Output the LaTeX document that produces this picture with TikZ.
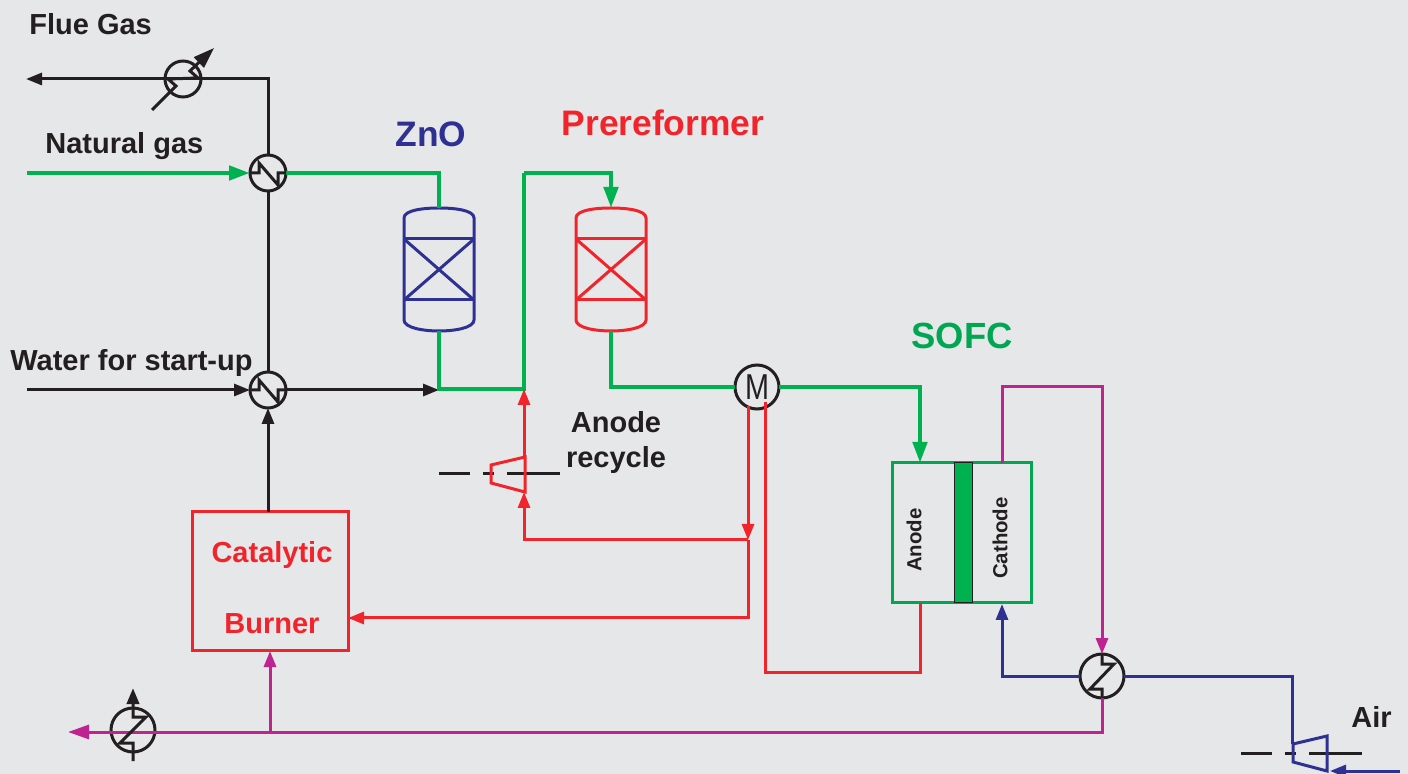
\documentclass[tikz,border=0pt]{standalone}
\usepackage{fontspec}
\setmainfont{Liberation Sans}
\usetikzlibrary{arrows.meta}
\definecolor{bgcol}{HTML}{E6E7E8}
\definecolor{inkcol}{HTML}{231F20}
\definecolor{gascol}{HTML}{00B14F}
\definecolor{fccol}{HTML}{00A651}
\definecolor{hotcol}{HTML}{F1242B}
\definecolor{aircol}{HTML}{2E3192}
\definecolor{exhcol}{HTML}{BE2390}
\tikzset{
  inkline/.style={draw=inkcol,line width=1.5pt},
  gasline/.style={draw=gascol,line width=2.3pt},
  hotline/.style={draw=hotcol,line width=1.5pt},
  airline/.style={draw=aircol,line width=1.5pt},
  exhline/.style={draw=exhcol,line width=1.5pt},
  bigtip/.style={-{Triangle[length=10.5pt,width=7pt]}},
  smalltip/.style={-{Triangle[length=8pt,width=6pt]}},
  hexs/.style={circle,inkline,minimum size=18pt,inner sep=0pt,outer sep=0pt},
  hexl/.style={circle,inkline,minimum size=22pt,inner sep=0pt,outer sep=0pt},
  lab/.style={text=inkcol,inner sep=0pt,font=\fontsize{14.5pt}{17pt}\selectfont\bfseries},
  biglab/.style={inner sep=0pt,font=\fontsize{17.7pt}{20pt}\selectfont\bfseries},
  celllab/.style={inner sep=0pt,rotate=90,text=inkcol,font=\fontsize{10.2pt}{12pt}\selectfont\bfseries},
  zigh/.pic={\draw[inkline] (-18,0) -- (-9,0) -- (-9,-10) -- (10,12) -- (10,0) -- (18,0);},
  zigv/.pic={\draw[inkline] (0,-22) -- (0,-12) -- (12,-12) -- (-12,13) -- (0,13) -- (0,22);},
  vessel/.pic={
    \draw (-35,-52) .. controls (-35,-60) and (-15,-62) .. (0,-62)
       .. controls (15,-62) and (35,-60) .. (35,-52) -- (35,50)
       .. controls (35,58) and (15,61) .. (0,61)
       .. controls (-15,61) and (-35,58) .. (-35,50) -- cycle;
    \draw (-35,-31) -- (35,-31);
    \draw (-35,30) -- (35,30);
    \draw (-35,-31) -- (35,30);
    \draw (-35,30) -- (35,-31);
    \coordinate (-top) at (0,-62);
    \coordinate (-bot) at (0,61);
  },
  compressor/.pic={
    \draw[inkline,dash pattern=on 15.5pt off 6.5pt on 5.5pt off 6.5pt on 26.5pt] (-85,0) -- (36,0);
    \draw (-33,-9) -- (1,-17) -- (1,18) -- (-33,9) -- cycle;
  }
}

\begin{document}
\begin{tikzpicture}[x=0.5pt,y=-0.5pt]
  \fill[bgcol] (0,0) rectangle (1408,774);
  \useasboundingbox (0,0) rectangle (1408,774);

  \node[hexs] (hxflue) at (183,79) {};
  \node[hexs] (hxgas) at (268,173) {};
  \node[hexs] (hxwater) at (268,390) {};
  \node[hexl] (hxair) at (1102,676) {};
  \node[hexl] (hxexit) at (133,730) {};
  \node[hexl,text=inkcol,font=\fontsize{18pt}{20pt}\selectfont] (motor) at (757,387) {\scalebox{0.8}[1]{M}};
  \node[draw=hotcol,line width=1.5pt,minimum width=78pt,minimum height=69pt,outer sep=0pt] (burner) at (270,581) {};
  \node[draw=fccol,line width=1.5pt,minimum width=69.5pt,minimum height=70pt,outer sep=0pt] (sofc) at (961.5,533) {};
  \node[draw=inkcol,fill=gascol,line width=0.5pt,minimum width=9pt,minimum height=70pt,outer sep=0pt] (membrane) at (963,533) {};
  \pic[draw=aircol,line width=1.5pt] (zno) at (439,270) {vessel};
  \pic[draw=hotcol,line width=1.5pt] (pre) at (611,270) {vessel};
  \pic[draw=hotcol,line width=1.5pt] at (524,474) {compressor};
  \pic[draw=aircol,line width=1.5pt] at (1326,753) {compressor};

  \coordinate (flueout) at (26,79);
  \coordinate (gasin) at (27,173);
  \coordinate (waterin) at (27,390);
  \coordinate (waterend) at (439,390);
  \coordinate (burnertop) at (268,512);
  \coordinate (mix) at (524,389);
  \coordinate (mixtop) at (524,173);
  \coordinate (anodein) at (920,463);
  \coordinate (anodeout) at (920,603);
  \coordinate (anodecorner) at (920,672);
  \coordinate (motorl) at (748,406);
  \coordinate (motorr) at (765,402);
  \coordinate (redjoin) at (748,540);
  \coordinate (recyclein) at (524,492);
  \coordinate (recycleout) at (524,457);
  \coordinate (burnerin) at (348,618);
  \coordinate (cathodeout) at (1002,463);
  \coordinate (cathodetop) at (1002,387);
  \coordinate (cathodein) at (1002,604);
  \coordinate (exitout) at (68,732);
  \coordinate (exitjoin) at (270,732);
  \coordinate (burnerair) at (270,651);
  \coordinate (comptop) at (1292,744);
  \coordinate (airin) at (1400,771);
  \coordinate (airend) at (1330,771);

  \draw[inkline,smalltip] (hxgas.north) |- (flueout);
  \draw[inkline] (hxgas.south) -- (hxwater.north);
  \draw[inkline,smalltip] (waterin) -- (hxwater.west);
  \draw[inkline,smalltip] (hxwater.east) -- (waterend);
  \draw[inkline,smalltip] (burnertop) -- (hxwater.south);

  \draw[gasline,bigtip] (gasin) -- (hxgas.west);
  \draw[gasline] (hxgas.east) -| (zno-top);
  \draw[gasline] (zno-bot) |- (mix) -- (mixtop);
  \draw[gasline,bigtip] (mixtop) -| (pre-top);
  \draw[gasline] (pre-bot) |- (motor.west);
  \draw[gasline,bigtip] (motor.east) -| (anodein);

  \draw[hotline,smalltip] (recycleout) -- (mix);
  \draw[hotline,smalltip] (redjoin) -| (recyclein);
  \draw[hotline,smalltip] (motorl) -- (redjoin);
  \draw[hotline,smalltip] (redjoin) |- (burnerin);
  \draw[hotline] (motorr) |- (anodecorner) -- (anodeout);

  \draw[exhline,smalltip] (cathodeout) -- (cathodetop) -| (hxair.north);
  \draw[exhline,bigtip] (hxair.south) |- (exitout);
  \draw[exhline,smalltip] (exitjoin) -- (burnerair);

  \draw[airline,smalltip] (hxair.west) -| (cathodein);
  \draw[airline] (hxair.east) -| (comptop);
  \draw[airline,smalltip] (airin) -- (airend);

  \draw[inkline,bigtip] (152,110) -- (176,86) -- (168,79) -- (198,78) -- (190,71) -- (214,48);
  \pic at (hxgas) {zigh};
  \pic at (hxwater) {zigh};
  \pic at (hxair) {zigv};
  \draw[inkline] (133,761) -- (133,743) -- (120,743) -- (146,717) -- (133,717) -- (133,704);
  \draw[inkline,line width=1.8pt,smalltip] (133,704) -- (133,688);

  \node[lab,anchor=west] (fluelab) at (29,24) {Flue Gas};
  \node[lab,anchor=west] (gaslab) at (45,146) {Natural gas};
  \node[lab,anchor=west] (waterlab) at (10,363) {Water for start-up};
  \node[lab,align=center] (recyclelab) at (616,443) {Anode\\[0.5pt]recycle};
  \node[lab,anchor=west] (airlab) at (1351,717) {Air};
  \node[biglab,text=aircol] (znolab) at (431,134) {ZnO};
  \node[biglab,text=hotcol] (prelab) at (663,123) {Prereformer};
  \node[biglab,text=fccol,font=\fontsize{18.2pt}{20pt}\selectfont\bfseries] (sofclab) at (962,336) {SOFC};
  \node[lab,text=hotcol] (burnerlaba) at (272,555) {Catalytic};
  \node[lab,text=hotcol] (burnerlabb) at (272,624) {Burner};
  \node[celllab] (anodelab) at (914,540) {Anode};
  \node[celllab] (cathodelab) at (1000,538) {Cathode};
\end{tikzpicture}
\end{document}
